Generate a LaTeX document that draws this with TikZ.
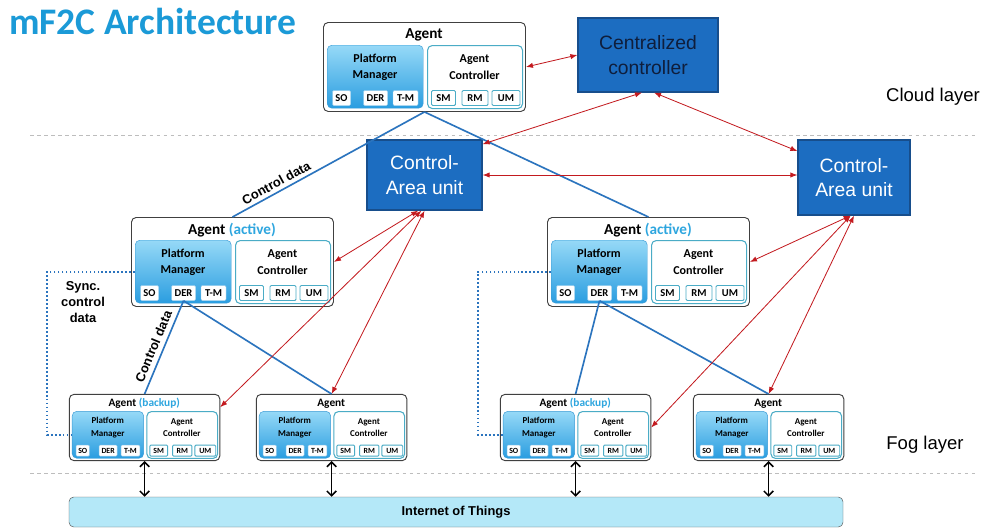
\documentclass[tikz,border=0pt]{standalone}
\usepackage{fontspec}
\setmainfont{Carlito}
\newfontfamily\arialfont{Liberation Sans}
\usetikzlibrary{arrows.meta,calc}
\definecolor{titleblue}{HTML}{1B9AD7}
\definecolor{unitblue}{HTML}{1C6DC1}
\definecolor{unitedge}{HTML}{174E8C}
\definecolor{navy}{HTML}{0F1E3C}
\definecolor{pmtop}{HTML}{96D9F7}
\definecolor{pmbottom}{HTML}{2A9DE0}
\definecolor{pmedge}{HTML}{3A9BD5}
\definecolor{acedge}{HTML}{4BACC6}
\definecolor{actcolor}{HTML}{2EA6DF}
\definecolor{linkred}{HTML}{C31A1F}
\definecolor{ctrlblue}{HTML}{2B74BE}
\definecolor{iotfill}{HTML}{B4E8F8}
\definecolor{layergray}{HTML}{BDBDBD}
\newcommand{\px}{0.03cm}
% one agent: name, top-left corner, scale, title
\newcommand{\agentnode}[4]{%
 \begin{scope}[shift={#2},scale=#3,transform shape]
  \node[agentbox,anchor=north west,minimum width=202*\px,minimum height=89*\px] (#1) at (0,0) {};
  \node[agenttitle] (#1-title) at (101,13) {#4};
  \node[pmbox,anchor=north west,minimum width=96*\px,minimum height=63*\px] (#1-pm) at (4,23) {};
  \node[acbox,anchor=north west,minimum width=95*\px,minimum height=63*\px] (#1-ac) at (104,23) {};
  \node[boxtext] (#1-pmtxt) at (52,45) {Platform\\Manager};
  \node[boxtext] (#1-actxt) at (151.5,45) {Agent\\Controller};
  \node[pmsub,minimum width=18*\px] (#1-so) at (18.5,76) {SO};
  \node[pmsub,minimum width=24*\px] (#1-der) at (52.5,76) {DER};
  \node[pmsub,minimum width=25*\px] (#1-tm) at (82.5,76) {T-M};
  \node[acsub,minimum width=24*\px] (#1-sm) at (120.5,76) {SM};
  \node[acsub,minimum width=26*\px] (#1-rm) at (152,76) {RM};
  \node[acsub,minimum width=28*\px] (#1-um) at (183,76) {UM};
 \end{scope}}

\begin{document}
\begin{tikzpicture}[x=0.03cm,y=-0.03cm,>={Latex[length=6pt,width=4.5pt]},
agentbox/.style={draw=black!75,fill=white,rounded corners=4pt,line width=0.8pt,inner sep=0pt},
agenttitle/.style={font=\fontsize{13}{15}\selectfont\bfseries,inner sep=0pt},
pmbox/.style={draw=pmedge,rounded corners=4pt,top color=pmtop,bottom color=pmbottom,inner sep=0pt},
acbox/.style={draw=acedge,fill=white,rounded corners=4pt,line width=0.9pt,inner sep=0pt},
boxtext/.style={align=center,font=\fontsize{10.3}{14}\selectfont\bfseries,inner sep=0pt},
pmsub/.style={fill=white,draw=pmedge!50,rounded corners=1pt,minimum height=15*\px,inner sep=0pt,font=\fontsize{9}{10}\selectfont\bfseries},
acsub/.style={pmsub,draw=acedge,line width=0.8pt},
unit/.style={draw=unitedge,fill=unitblue,line width=1pt,align=center,font=\arialfont\fontsize{16.5}{21}\selectfont,inner sep=0pt},
iot/.style={draw=black!65,fill=iotfill,rounded corners=4pt,font=\arialfont\bfseries\fontsize{11}{13}\selectfont},
link/.style={<->,draw=linkred,line width=0.7pt},
ctrl/.style={draw=ctrlblue,line width=1.4pt},
sync/.style={draw=ctrlblue,line width=1.4pt,dotted},
iolink/.style={{Straight Barb[length=4pt,width=8pt]}-{Straight Barb[length=4pt,width=8pt]},line width=1.3pt},
note/.style={font=\arialfont\bfseries\fontsize{11}{13.6}\selectfont,align=center,inner sep=1pt},
layer/.style={draw=layergray,dashed,line width=0.8pt},
layertext/.style={font=\arialfont\fontsize{15.8}{18}\selectfont,inner sep=0pt}]
 \fill[white] (0,0) rectangle (984,529);
 \useasboundingbox (0,0) rectangle (984,529);
 \node[anchor=west,text=titleblue,font=\fontsize{32}{36}\selectfont\bfseries,inner sep=0pt] (title) at (9,21) {mF2C Architecture};

 % layers
 \draw[layer] (30,135) -- (975,135);
 \draw[layer] (30,473) -- (975,473);
 \node[layertext] (cloud) at (933,97) {Cloud layer};
 \node[layertext] (fog) at (925,445) {Fog layer};

 % controllers
 \node[unit,text=navy,minimum width=140*\px,minimum height=74*\px] (cc) at (648,55) {Centralized\\controller};
 \node[unit,text=white,minimum width=115*\px,minimum height=70*\px] (cau1) at (424.5,175) {Control-\\Area unit};
 \node[unit,text=white,minimum width=112*\px,minimum height=75*\px] (cau2) at (854,177.5) {Control-\\Area unit};

 % agents
 \agentnode{top}{(323,22)}{1}{Agent}
 \agentnode{a1}{(131,217)}{1}{Agent \textcolor{actcolor}{(active)}}
 \agentnode{a2}{(547,217)}{1}{Agent \textcolor{actcolor}{(active)}}
 \agentnode{b1}{(69,394)}{0.745}{Agent \textcolor{actcolor}{(backup)}}
 \agentnode{b2}{(256,394)}{0.745}{Agent}
 \agentnode{b3}{(500,394)}{0.745}{Agent \textcolor{actcolor}{(backup)}}
 \agentnode{b4}{(693,394)}{0.745}{Agent}

 \node[iot,minimum width=774*\px,minimum height=30*\px] (iot) at (456,512) {Internet of Things};

 % control data lines
 \draw[ctrl] (top.south) -- node[note,sloped,above,inner sep=3pt,pos=0.75] (cdtop) {Control data} (a1.north);
 \draw[ctrl] (top.south) -- (a2.north);
 \draw[ctrl] (a1-der.south) -- node[note,sloped,above,inner sep=4pt,pos=0.53] (cdleft) {Control data} (b1.north);
 \draw[ctrl] (a1-der.south) -- (b2.north);
 \draw[ctrl] (a2-der.south) -- (b3.north);
 \draw[ctrl] (a2-der.south) -- (b4.north);

 % sync between active and backup
 \draw[sync] (a1-pm.west) -- ++(-88,0) |- (b1-pm.west);
 \draw[sync] (a2-pm.west) -- ++(-73,0) |- (b3-pm.west);
 \node[note] (sync) at (83,302) {Sync.\\control\\data};

 % red links
 \draw[link] (top.east) -- (cc.west);
 \draw[link] (cau1.28) -- ($(cc.south)+(-6,0)$);
 \draw[link] (cau2.155) -- ($(cc.south)+(6,0)$);
 \draw[link] (cau1.east) -- (cau1.east -| cau2.west);
 \draw[link] (cau1.-100) -- (a1.east);
 \draw[link] (cau1.-95) -- (b1.15);
 \draw[link] (cau1.-90) -- (b2.north);
 \draw[link] (cau2.-95) -- (a2.east);
 \draw[link] (cau2.-95) -- (b3.east);
 \draw[link] (cau2.-90) -- (b4.north);

 \foreach \b in {b1,b2,b3,b4}
  \draw[iolink] (\b.south) -- (\b.south |- iot.north);
\end{tikzpicture}
\end{document}
